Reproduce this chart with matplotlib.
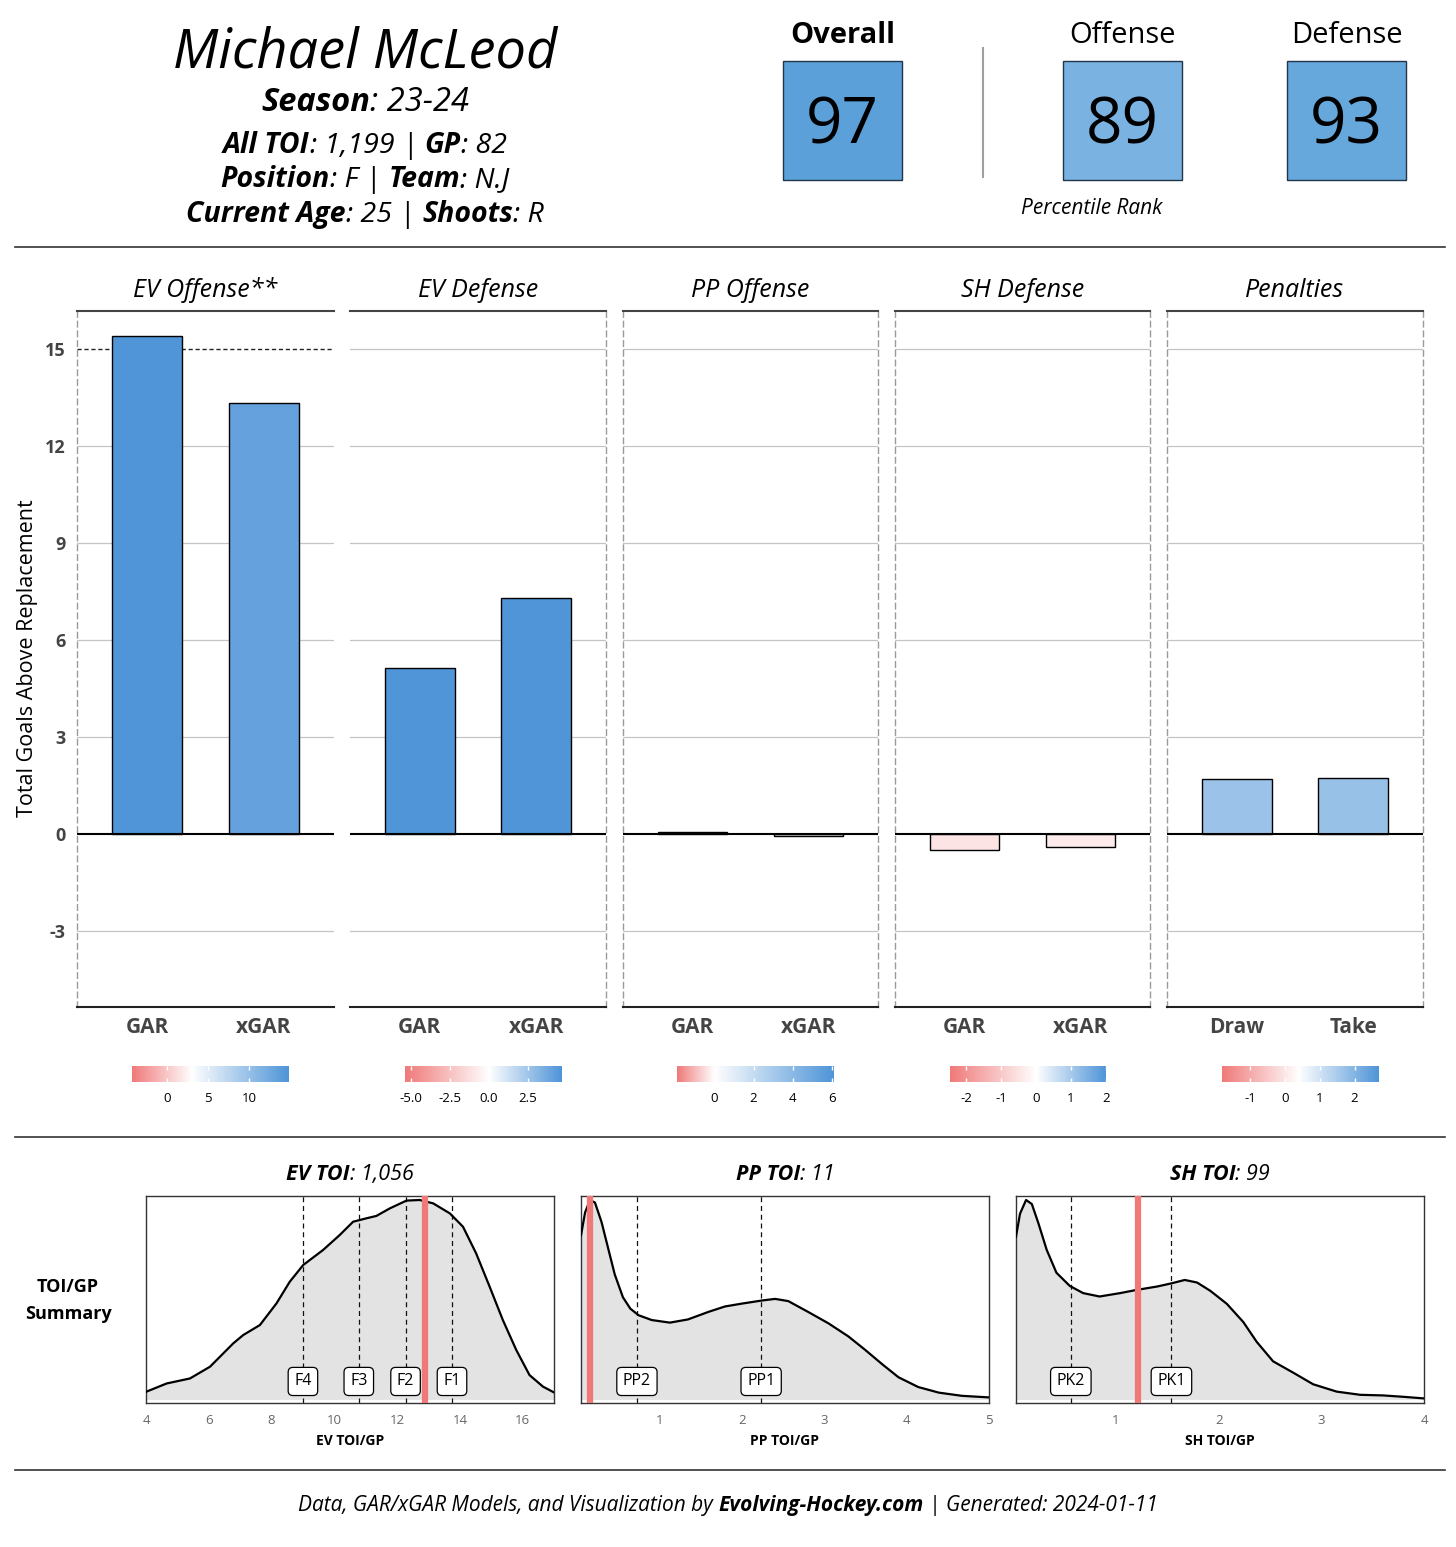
import numpy as np
import matplotlib
matplotlib.use('Agg')
import matplotlib.pyplot as plt
from matplotlib.colors import LinearSegmentedColormap, TwoSlopeNorm
from matplotlib.lines import Line2D
from matplotlib.patches import Rectangle

W, H = 1456, 1547
FONT = ['Open Sans', 'DejaVu Sans']
plt.rcParams['font.family'] = FONT

# ---------------- data ----------------
player_name = 'Michael McLeod'
season = '23-24'
info_keys = ['All TOI', 'GP', 'Position', 'Team', 'Current Age', 'Shoots']
info_vals = ['1,199', '82', 'F', 'N.J', '25', 'R']

score_labels = ['Overall', 'Offense', 'Defense']
score_values = [97, 89, 93]

panel_titles = ['EV Offense**', 'EV Defense', 'PP Offense', 'SH Defense', 'Penalties']
panel_cats = [['GAR', 'xGAR'], ['GAR', 'xGAR'], ['GAR', 'xGAR'], ['GAR', 'xGAR'], ['Draw', 'Take']]
first_values = [15.40, 5.13, 0.05, -0.49, 1.70]
second_values = [13.33, 7.30, -0.05, -0.40, 1.73]
y_ticks = [-3, 0, 3, 6, 9, 12, 15]

cbar_min = [-4.3, -5.4, -1.9, -2.46, -1.8]
cbar_max = [14.9, 4.7, 6.1, 2.0, 2.7]
cbar_mid = [3.0, 0.0, 0.0, 0.0, 0.4]
cbar_ticks = [[0, 5, 10], [-5.0, -2.5, 0.0, 2.5], [0, 2, 4, 6], [-2, -1, 0, 1, 2], [-1, 0, 1, 2]]
cbar_ticklabels = [['0', '5', '10'], ['-5.0', '-2.5', '0.0', '2.5'], ['0', '2', '4', '6'],
                   ['-2', '-1', '0', '1', '2'], ['-1', '0', '1', '2']]

toi_titles = ['EV TOI', 'PP TOI', 'SH TOI']
toi_totals = ['1,056', '11', '99']
toi_xlabels = ['EV TOI/GP', 'PP TOI/GP', 'SH TOI/GP']

ev_toi_x = [4.0, 4.66, 5.40, 6.04, 6.78, 7.10, 7.63, 8.16, 8.58, 9.01, 9.64, 10.17, 10.60, 11.02,
            11.34, 11.77, 12.30, 12.72, 13.15, 13.68, 14.10, 14.52, 14.95, 15.37, 15.80, 16.22, 16.65, 17.0]
ev_density = [0.038, 0.080, 0.105, 0.164, 0.281, 0.323, 0.373, 0.482, 0.590, 0.674, 0.749, 0.824, 0.891, 0.908,
              0.920, 0.958, 0.997, 1.000, 0.983, 0.933, 0.866, 0.732, 0.565, 0.398, 0.247, 0.122, 0.064, 0.035]
pp_toi_x = [0.04, 0.09, 0.15, 0.21, 0.29, 0.37, 0.45, 0.55, 0.64, 0.74, 0.90, 1.12, 1.34, 1.59, 1.79,
            1.99, 2.24, 2.40, 2.56, 2.80, 3.05, 3.29, 3.49, 3.70, 3.90, 4.14, 4.39, 4.67, 5.0]
pp_density = [0.823, 0.938, 1.000, 0.987, 0.889, 0.758, 0.627, 0.512, 0.455, 0.422, 0.398, 0.385, 0.401, 0.439,
              0.466, 0.480, 0.496, 0.504, 0.493, 0.439, 0.381, 0.316, 0.250, 0.177, 0.111, 0.062, 0.034, 0.018, 0.010]
sh_toi_x = [0.026, 0.065, 0.124, 0.18, 0.245, 0.325, 0.42, 0.55, 0.68, 0.84, 1.04, 1.20, 1.40, 1.54,
            1.67, 1.79, 1.92, 2.08, 2.24, 2.37, 2.53, 2.73, 2.92, 3.15, 3.38, 3.60, 3.80, 4.0]
sh_density = [0.816, 0.931, 1.000, 0.980, 0.882, 0.750, 0.635, 0.569, 0.533, 0.516, 0.533, 0.549, 0.566, 0.582,
              0.599, 0.586, 0.544, 0.479, 0.388, 0.289, 0.191, 0.133, 0.076, 0.039, 0.023, 0.020, 0.013, 0.005]

toi_x = [ev_toi_x, pp_toi_x, sh_toi_x]
toi_density = [ev_density, pp_density, sh_density]
toi_xlim = [(4.0, 17.0), (0.04, 5.0), (0.026, 4.0)]
toi_ticks = [[4, 6, 8, 10, 12, 14, 16], [1, 2, 3, 4, 5], [1, 2, 3, 4]]
line_labels = [['F4', 'F3', 'F2', 'F1'], ['PP2', 'PP1'], ['PK2', 'PK1']]
line_values = [[9.0, 10.78, 12.27, 13.75], [0.72, 2.23], [0.56, 1.54]]
player_toi = [12.88, 0.15, 1.21]

footer_parts = ['Data, GAR/xGAR Models, and Visualization by ', 'Evolving-Hockey.com', ' | ', 'Generated: 2024-01-11']

# ---------------- helpers ----------------
fig = plt.figure(figsize=(W / 100, H / 100), dpi=100)
fig.patch.set_facecolor('white')
renderer = fig.canvas.get_renderer()


def fy(y):
    return 1 - y / H


def rect(x0, y0, x1, y1):
    return [x0 / W, 1 - y1 / H, (x1 - x0) / W, (y1 - y0) / H]


def text_w(s, size, weight, style):
    t = fig.text(0, 0, 'I' + s + 'I', fontsize=size, fontweight=weight, fontstyle=style)
    w1 = t.get_window_extent(renderer).width
    t.remove()
    t = fig.text(0, 0, 'II', fontsize=size, fontweight=weight, fontstyle=style)
    w2 = t.get_window_extent(renderer).width
    t.remove()
    return w1 - w2


def rich(xc, yb, parts, size, color='black'):
    widths = [text_w(s, size, w, st) for s, w, st in parts]
    x = xc - sum(widths) / 2
    for (s, w, st), wd in zip(parts, widths):
        fig.text(x / W, fy(yb), s, fontsize=size, fontweight=w, fontstyle=st,
                 color=color, ha='left', va='baseline')
        x += wd


def hline(y, x0, x1, color='#333333', lw=1.2):
    fig.add_artist(Line2D([x0 / W, x1 / W], [fy(y), fy(y)], transform=fig.transFigure,
                          color=color, lw=lw))


REG = 'normal'

# ---------------- header ----------------
fig.text(365 / W, fy(67), player_name, fontsize=39, fontstyle='italic', fontweight=REG,
         ha='center', va='baseline')
rich(365, 111, [('Season', 'bold', 'italic'), (': ' + season, REG, 'italic')], 23.5)
rich(365, 153, [(info_keys[0], 'bold', 'italic'), (': ' + info_vals[0] + ' ', REG, 'italic'),
                ('|', REG, 'normal'), (' ', REG, 'italic'),
                (info_keys[1], 'bold', 'italic'), (': ' + info_vals[1], REG, 'italic')], 20.5)
rich(365, 187, [(info_keys[2], 'bold', 'italic'), (': ' + info_vals[2] + ' ', REG, 'italic'),
                ('|', REG, 'normal'), (' ', REG, 'italic'),
                (info_keys[3], 'bold', 'italic'), (': ' + info_vals[3], REG, 'italic')], 20.5)
rich(365, 222, [(info_keys[4], 'bold', 'italic'), (': ' + info_vals[4] + ' ', REG, 'italic'),
                ('|', REG, 'normal'), (' ', REG, 'italic'),
                (info_keys[5], 'bold', 'italic'), (': ' + info_vals[5], REG, 'italic')], 20.5)

box_colors = ['#5ba0d8', '#7ab2e1', '#66a7dc']
box_left = [783, 1063, 1287]
for lab, val, col, x0 in zip(score_labels, score_values, box_colors, box_left):
    fig.add_artist(Rectangle((x0 / W, fy(180)), 119 / W, 119 / H, transform=fig.transFigure,
                             fc=col, ec='#22364a', lw=1.0))
    fig.text((x0 + 59.5) / W, fy(144), str(val), fontsize=46, ha='center', va='baseline')
    fig.text((x0 + 59.5) / W, fy(43), lab, fontsize=21,
             fontweight='bold' if lab == 'Overall' else 'normal', ha='center', va='baseline')
fig.add_artist(Line2D([983 / W, 983 / W], [fy(48), fy(177)], transform=fig.transFigure,
                      color='#a0a0a0', lw=1.5))
fig.text(1092 / W, fy(208), 'Percentile Rank', fontsize=15, fontstyle='italic', fontweight=REG,
         ha='center', va='center')

hline(247, 15, 1445)
hline(1137, 15, 1445)
hline(1470, 15, 1445)

# ---------------- GAR bar panels ----------------
cmap = LinearSegmentedColormap.from_list('gar', ['#f07a7a', '#ffffff', '#4f95d8'])
panel_x = [(77, 334), (350, 606), (623, 878), (895, 1150), (1167, 1423)]
cbar_x = [(132, 289), (405, 562), (677, 834), (950, 1106), (1222, 1379)]
dashed_left = [True, False, True, True, True]
dashed_right = [False, True, True, True, True]

for i in range(5):
    x0, x1 = panel_x[i]
    ax = fig.add_axes(rect(x0, 311, x1, 1007))
    norm = TwoSlopeNorm(vmin=cbar_min[i], vcenter=cbar_mid[i], vmax=cbar_max[i])
    vals = [first_values[i], second_values[i]]
    cols = [cmap(norm(np.clip(v, cbar_min[i], cbar_max[i]))) for v in vals]
    for t in y_ticks:
        if t == 0:
            continue
        if i == 0 and t == 15:
            ax.axhline(t, color='#222222', lw=1.0, ls=(0, (3, 2)), zorder=1)
        else:
            ax.axhline(t, color='#c4c4c4', lw=0.9, zorder=1)
    ax.bar([0, 1], vals, width=0.6, color=cols, edgecolor='black', lw=1.0, zorder=2)
    ax.axhline(0, color='black', lw=1.5, zorder=3)
    ax.set_xlim(-0.6, 1.6)
    ax.set_ylim(-5.35, 16.18)
    ax.set_xticks([0, 1])
    ax.set_xticklabels(panel_cats[i], fontsize=15, fontweight='bold', color='#444444')
    ax.tick_params(axis='x', length=0, pad=7.5)
    ax.set_yticks(y_ticks)
    if i == 0:
        ax.set_yticklabels([str(t) for t in y_ticks], fontsize=13, fontweight='bold', color='#444444')
        ax.tick_params(axis='y', length=0, pad=8)
    else:
        ax.tick_params(axis='y', length=0, labelleft=False)
    ax.spines['top'].set_color('#444444')
    ax.spines['top'].set_linewidth(1.5)
    ax.spines['bottom'].set_color('#222222')
    ax.spines['bottom'].set_linewidth(1.5)
    for side, flag in (('left', dashed_left[i]), ('right', dashed_right[i])):
        if flag:
            ax.spines[side].set_color('#9a9a9a')
            ax.spines[side].set_linewidth(1.0)
            ax.spines[side].set_linestyle((0, (4, 3)))
        else:
            ax.spines[side].set_visible(False)
    fig.text((x0 + x1) / 2 / W, fy(297), panel_titles[i], fontsize=18, fontstyle='italic',
             fontweight=REG, ha='center', va='baseline')

    # colorbar legend
    cx0, cx1 = cbar_x[i]
    cax = fig.add_axes(rect(cx0, 1066, cx1, 1082))
    grad = np.linspace(cbar_min[i], cbar_max[i], 300)[None, :]
    cax.imshow(grad, aspect='auto', cmap=cmap, norm=norm,
               extent=(cbar_min[i], cbar_max[i], 0, 1))
    cax.vlines(cbar_ticks[i], 0, 0.22, color='white', lw=1.0)
    cax.vlines(cbar_ticks[i], 0.78, 1, color='white', lw=1.0)
    cax.set_xlim(cbar_min[i], cbar_max[i])
    cax.set_ylim(0, 1)
    cax.set_xticks(cbar_ticks[i])
    cax.set_xticklabels(cbar_ticklabels[i], fontsize=9.5)
    cax.tick_params(axis='x', length=0, pad=7)
    cax.set_yticks([])
    for s in cax.spines.values():
        s.set_visible(False)

fig.text(28 / W, fy(658), 'Total Goals Above Replacement', rotation=90, fontsize=15.5,
         ha='center', va='center')

# ---------------- TOI density panels ----------------
dens_x = [(146, 554), (581, 989), (1016, 1424)]
for j in range(3):
    x0, x1 = dens_x[j]
    ax = fig.add_axes(rect(x0, 1196, x1, 1403))
    xs = toi_x[j]
    ds = toi_density[j]
    ax.fill_between(xs, 0, ds, color='#e3e3e3', lw=0, zorder=1)
    for lab, v in zip(line_labels[j], line_values[j]):
        ax.axvline(v, color='#111111', lw=0.9, ls=(0, (4, 3)), zorder=2)
    ax.plot(xs, ds, color='black', lw=1.6, zorder=3, solid_joinstyle='round')
    ax.axvline(player_toi[j], color='#f07878', lw=4.5, zorder=4)
    for lab, v in zip(line_labels[j], line_values[j]):
        ax.text(v, 0.09, lab, fontsize=11.5, ha='center', va='center', zorder=5,
                bbox=dict(boxstyle='round,pad=0.38,rounding_size=0.3', fc='white', ec='black', lw=0.9))
    ax.set_xlim(*toi_xlim[j])
    ax.set_ylim(-0.018, 1.02)
    ax.set_yticks([])
    ax.set_xticks(toi_ticks[j])
    ax.set_xticklabels([str(t) for t in toi_ticks[j]], fontsize=9.5, color='#666666')
    ax.tick_params(axis='x', length=0, pad=8)
    for s in ax.spines.values():
        s.set_color('#333333')
        s.set_linewidth(1.0)
    fig.text((x0 + x1) / 2 / W, fy(1441), toi_xlabels[j], fontsize=10, fontweight='bold',
             ha='center', va='center')
    rich((x0 + x1) / 2, 1180, [(toi_titles[j], 'bold', 'italic'),
                               (': ' + toi_totals[j], REG, 'italic')], 15.5)

fig.text(68 / W, fy(1287), 'TOI/GP', fontsize=13, fontweight='bold', ha='center', va='center')
fig.text(68 / W, fy(1314), 'Summary', fontsize=13, fontweight='bold', ha='center', va='center')

# ---------------- footer ----------------
rich(728, 1511, [(footer_parts[0], REG, 'italic'), (footer_parts[1], 'bold', 'italic'),
                 (footer_parts[2], REG, 'normal'), (footer_parts[3], REG, 'italic')], 15)

fig.savefig('out.png', dpi=100, facecolor='white')
